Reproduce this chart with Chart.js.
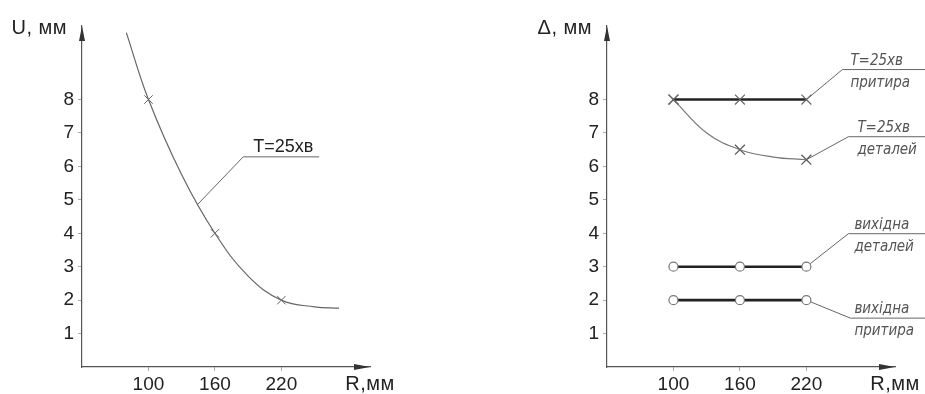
<!DOCTYPE html>
<html>
<head>
<meta charset="utf-8">
<script src="https://cdn.jsdelivr.net/npm/chart.js@4.4.1/dist/chart.umd.min.js"></script>
<style>
	html, body { margin: 0; padding: 0; background: #fff; }
	#wrap { position: relative; width: 925px; height: 394px; }
	#wrap canvas { position: absolute; top: 0; }
</style>
</head>
<body>
<div id="wrap">
	<canvas id="chartU" width="460" height="394" style="left:0"></canvas>
	<canvas id="chartD" width="465" height="394" style="left:460px"></canvas>
</div>
<script>
// Radius R, mm (x ticks) and value ticks (y)
var radiusTicks = [100, 160, 220];
var valueTicks  = [1, 2, 3, 4, 5, 6, 7, 8];

// Left: wear U, mm, T = 25 min (curve, markers at 100/160/220)
var uCurveR = [80, 100, 130, 160, 190, 220, 250, 272];
var uCurveU = [10.0, 8, 5.75, 4.0, 2.72, 2.0, 1.8, 1.76];
var uMarks  = [8, 4, 2];

// Right: flatness deviation, mm
var dLapT25      = [8, 8, 8];          // T=25хв притира
var dPartCurveR  = [100, 130, 160, 190, 220];
var dPartCurve   = [8, 7.0, 6.5, 6.28, 6.2];
var dPartT25     = [8, 6.5, 6.2];      // T=25хв деталей
var dPartInitial = [3, 3, 3];          // вихідна деталей
var dLapInitial  = [2, 2, 2];          // вихідна притира

var TEXT = '#222';
var AXIS = '#555';
var SANS = '"Liberation Sans", Arial, sans-serif';
var HAND = '"Liberation Sans Narrow", "DejaVu Sans Condensed", sans-serif';

function pts(xs, ys) {
	return xs.map(function(x, i) { return { x: x, y: ys[i] }; });
}

// Axes arrows, axis titles and leader-line notes
var sketchPlugin = {
	id: 'sketch',
	afterDraw: function(chart, args, opts) {
		var ctx = chart.ctx, a = chart.chartArea;
		var xs = chart.scales.x, ys = chart.scales.y;
		ctx.save();
		ctx.fillStyle = '#333';
		// y arrow
		ctx.beginPath();
		ctx.moveTo(a.left, a.top);
		ctx.lineTo(a.left - 3, a.top + 15);
		ctx.lineTo(a.left + 3, a.top + 15);
		ctx.closePath();
		ctx.fill();
		// x arrow
		ctx.beginPath();
		ctx.moveTo(a.right, a.bottom);
		ctx.lineTo(a.right - 16, a.bottom - 3);
		ctx.lineTo(a.right - 16, a.bottom + 3);
		ctx.closePath();
		ctx.fill();

		// axis titles
		ctx.fillStyle = TEXT;
		ctx.font = '20px ' + SANS;
		ctx.letterSpacing = '0.5px';
		ctx.textAlign = 'right';
		ctx.textBaseline = 'alphabetic';
		ctx.fillText(opts.yTitle, a.left - 15, 34);
		ctx.textAlign = 'center';
		ctx.fillText('R,мм', a.right, 390);
		ctx.letterSpacing = '0px';

		// notes
		(opts.notes || []).forEach(function(n) {
			var px = xs.getPixelForValue(n.at[0]);
			var py = ys.getPixelForValue(n.at[1]);
			var kx = px + n.knee[0], ky = py + n.knee[1];
			var dx = kx - px, dy = ky - py, len = Math.sqrt(dx * dx + dy * dy);
			var sx = px + dx / len * (n.gap || 0), sy = py + dy / len * (n.gap || 0);
			ctx.strokeStyle = '#666';
			ctx.lineWidth = 1;
			ctx.beginPath();
			ctx.moveTo(sx, sy);
			ctx.lineTo(kx, ky);
			ctx.lineTo(kx + n.shelf, ky);
			ctx.stroke();
			ctx.fillStyle = n.italic ? '#555' : TEXT;
			ctx.font = (n.italic ? 'italic 15px ' + HAND : '18px ' + SANS);
			ctx.textAlign = 'left';
			if (n.above) ctx.fillText(n.above, kx + n.dx, ky - 5);
			if (n.below) ctx.fillText(n.below, kx + n.dx, ky + 17);
		});
		ctx.restore();
	}
};

function baseOptions(yWidth, padRight, sketch) {
	return {
		responsive: false,
		animation: false,
		devicePixelRatio: 1,
		layout: { padding: { top: 26, right: padRight, bottom: 0, left: 0 } },
		plugins: {
			legend: { display: false },
			tooltip: { enabled: false },
			sketch: sketch
		},
		scales: {
			x: {
				type: 'linear',
				min: 40,
				max: 300,
				afterBuildTicks: function(s) { s.ticks = radiusTicks.map(function(v) { return { value: v }; }); },
				afterFit: function(s) { s.height = 27; },
				grid: { display: true, drawOnChartArea: false, tickLength: 4, color: '#aaa' },
				border: { color: AXIS, width: 1.2 },
				ticks: { color: TEXT, padding: 2, font: { size: 19, family: SANS } }
			},
			y: {
				type: 'linear',
				min: 0,
				max: 10.2,
				afterBuildTicks: function(s) { s.ticks = valueTicks.map(function(v) { return { value: v }; }); },
				afterFit: function(s) { s.width = yWidth; },
				grid: { display: true, drawOnChartArea: false, tickLength: 4, color: '#aaa' },
				border: { color: AXIS, width: 1.2 },
				ticks: { color: TEXT, padding: 4, font: { size: 19, family: SANS } }
			}
		}
	};
}

new Chart(document.getElementById('chartU'), {
	type: 'line',
	data: {
		datasets: [
			{
				data: pts(uCurveR, uCurveU),
				borderColor: '#666',
				borderWidth: 1.2,
				pointRadius: 0,
				tension: 0.4
			},
			{
				data: pts(radiusTicks, uMarks),
				showLine: false,
				pointStyle: 'crossRot',
				pointRadius: 6,
				borderColor: '#666',
				borderWidth: 1
			}
		]
	},
	options: baseOptions(82, 90, {
		yTitle: 'U, мм',
		notes: [
			{ at: [144, 4.85], knee: [46, -48], shelf: 76, dx: 10, above: 'T=25хв' }
		]
	}),
	plugins: [sketchPlugin]
});

new Chart(document.getElementById('chartD'), {
	type: 'line',
	data: {
		datasets: [
			{
				data: pts(radiusTicks, dLapT25),
				borderColor: '#222',
				borderWidth: 2.6,
				pointStyle: 'crossRot',
				pointRadius: 7,
				pointBorderColor: '#666',
				pointBorderWidth: 1.2
			},
			{
				data: pts(dPartCurveR, dPartCurve),
				borderColor: '#777',
				borderWidth: 1.2,
				pointRadius: 0,
				tension: 0.4
			},
			{
				data: pts(radiusTicks, dPartT25),
				showLine: false,
				pointStyle: 'crossRot',
				pointRadius: 7,
				borderColor: '#555',
				borderWidth: 1.2
			},
			{
				data: pts(radiusTicks, dPartInitial),
				borderColor: '#222',
				borderWidth: 2.6,
				pointStyle: 'circle',
				pointRadius: 4.5,
				pointBackgroundColor: '#fff',
				pointBorderColor: '#777',
				pointBorderWidth: 1.2
			},
			{
				data: pts(radiusTicks, dLapInitial),
				borderColor: '#222',
				borderWidth: 2.6,
				pointStyle: 'circle',
				pointRadius: 4.5,
				pointBackgroundColor: '#fff',
				pointBorderColor: '#777',
				pointBorderWidth: 1.2
			}
		]
	},
	options: baseOptions(147, 30, {
		yTitle: 'Δ, мм',
		notes: [
			{ at: [220, 8],   knee: [36, -30], shelf: 90, dx: 8, italic: true, above: 'T=25хв', below: 'притира' },
			{ at: [220, 6.2], knee: [42, -23], shelf: 90, dx: 9, italic: true, above: 'T=25хв', below: 'деталей' },
			{ at: [220, 3],   knee: [42, -33], shelf: 90, dx: 6, gap: 5, italic: true, above: 'вихідна', below: 'деталей' },
			{ at: [220, 2],   knee: [44, 18],  shelf: 90, dx: 4, gap: 5, italic: true, above: 'вихідна', below: 'притира' }
		]
	}),
	plugins: [sketchPlugin]
});
</script>
</body>
</html>
